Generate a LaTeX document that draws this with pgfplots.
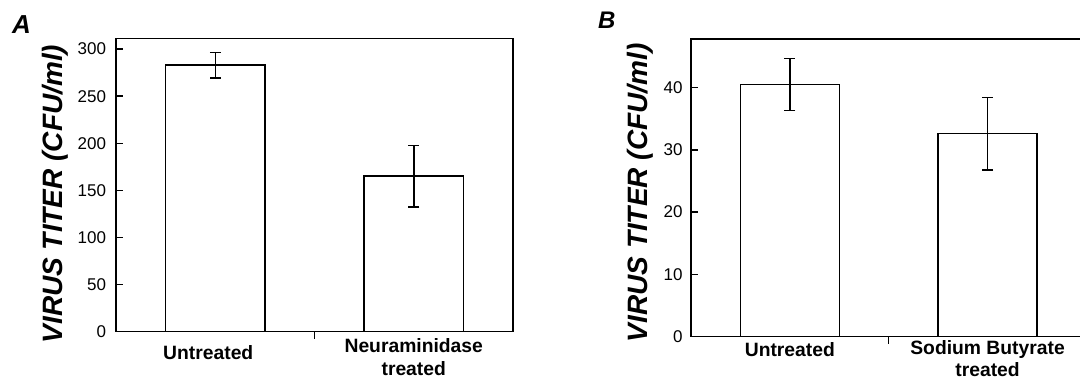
\documentclass[border=0pt]{standalone}
\usepackage{fontspec}
\setmainfont{Liberation Sans}
\usepackage{pgfplots}
\pgfplotsset{compat=1.18}
\begin{document}
\begin{tikzpicture}
\useasboundingbox (0,0) rectangle (1080bp,383bp);
\pgfplotsset{
 panel/.style={
  scale only axis,
  xmin=-0.5, xmax=1.5, ymin=0,
  axis line style={line width=1.5bp, black},
  xtick={0.5}, xticklabels={},
  xtick pos=bottom, ytick pos=left,
  tick align=inside,
  major tick length=7bp,
  tick style={line width=1.3bp, black},
  yticklabel style={font=\fontsize{17bp}{20bp}\selectfont, /pgf/number format/assume math mode=true},
  every extra x tick/.append style={major tick length=0pt, xticklabel style={font=\fontsize{19.3bp}{22.3bp}\selectfont\bfseries, align=center}},
  ylabel style={font=\fontsize{28bp}{30bp}\selectfont\bfseries\itshape, anchor=base},
  ybar, bar width=0.5, bar shift=0pt,
  extra x ticks={0,1},
 },
 mybar/.style={draw=black, fill=white, line width=1.5bp,
   error bars/.cd, y dir=both, y explicit,
   error bar style={line width=1.5bp, black},
   error mark options={rotate=90, mark size=5.5bp, line width=1.5bp, black}},
}
\begin{axis}[panel, at={(116bp,51.3bp)}, anchor=south west,
  width=397bp, height=293.4bp, ymax=311.4,
  ytick={0,50,...,300},
  yticklabel style={xshift=-6.5bp},
  ylabel={VIRUS TITER (CFU/ml)},
  ylabel style={at={(axis description cs:-0.136,0.469)}},
  extra x tick labels={{\rule{0pt}{20.6bp}Untreated\hspace*{14bp}},{Neuraminidase\\treated}},
  every extra x tick/.append style={xticklabel style={yshift=-3.6bp}},
]
\addplot[mybar] coordinates {(0,283) +- (0,13.5) (1,165) +- (0,32.8)};
\end{axis}
\begin{axis}[panel, at={(691bp,46.3bp)}, anchor=south west,
  width=395.4bp, height=297.7bp, ymax=47.8,
  ytick={0,10,...,40},
  yticklabel style={xshift=-5bp},
  ylabel={VIRUS TITER (CFU/ml)},
  ylabel style={at={(axis description cs:-0.109,0.483)}},
  extra x tick labels={{\rule{0pt}{15.7bp}Untreated},{Sodium Butyrate\\treated}},
  every extra x tick/.append style={xticklabel style={yshift=-0.2bp}},
]
\addplot[mybar] coordinates {(0,40.5) +- (0,4.2) (1,32.6) +- (0,5.8)};
\end{axis}
\node[anchor=base west, inner sep=0, font=\fontsize{26bp}{26bp}\selectfont\bfseries\itshape] at (12bp,349.7bp) {A};
\node[anchor=base west, inner sep=0, font=\fontsize{24bp}{24bp}\selectfont\bfseries\itshape] at (598bp,354.7bp) {B};
\end{tikzpicture}
\end{document}
